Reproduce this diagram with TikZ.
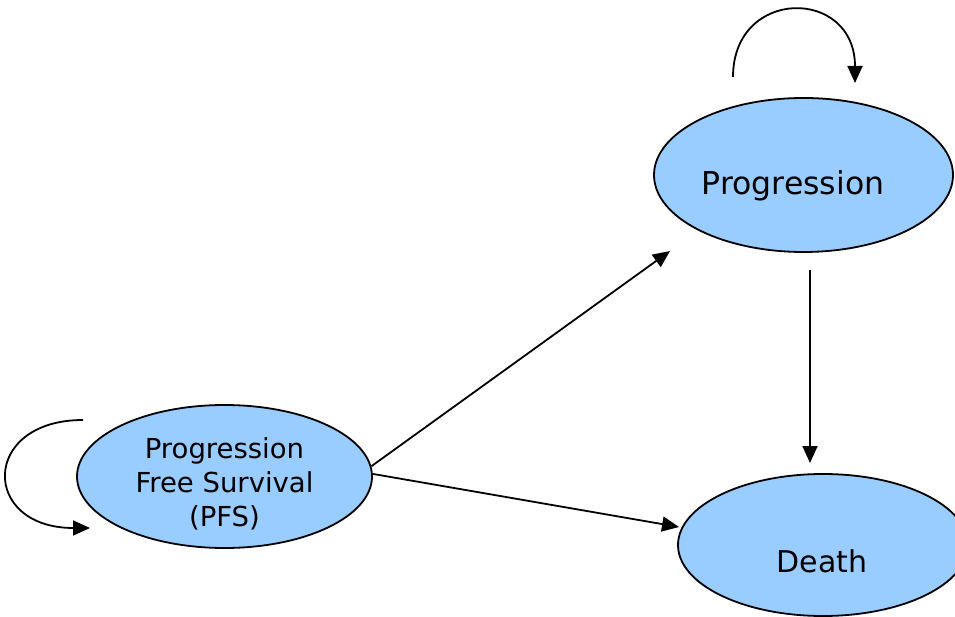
\documentclass[tikz,border=0pt]{standalone}
\usepackage{fontspec}
\setmainfont{DejaVu Sans}
\usetikzlibrary{shapes.geometric,arrows.meta}
\definecolor{stateblue}{HTML}{99CCFF}
\tikzset{
  state/.style={ellipse,draw=black,fill=stateblue,line width=1.8pt,inner sep=0pt},
  bigtext/.style={font=\fontsize{30}{34}\selectfont,anchor=base,inner sep=0pt},
  pfstext/.style={font=\fontsize{27.5}{34}\selectfont,anchor=base,inner sep=0pt,align=center},
  conn/.style={line width=1.8pt,-{Triangle[length=17pt,width=15pt]}}
}
\begin{document}
\begin{tikzpicture}[x=1pt,y=1pt]
\useasboundingbox (0,0) rectangle (955,616);
% states
\node[state,minimum width=295pt,minimum height=143pt] (pfs) at (224.5,139.5) {};
\node[state,minimum width=299pt,minimum height=154pt] (prog) at (803.5,441) {};
\node[state,minimum width=290pt,minimum height=142pt] (death) at (823,71) {};
% texts
\node[pfstext] (pfslabel) at (224.5,90) {Progression\\Free Survival\\(PFS)};
\node[bigtext,font=\fontsize{31.5}{34}\selectfont] (proglabel) at (793,421) {Progression};
\node[bigtext] (deathlabel) at (822,44) {Death};
% free ends
\coordinate (t1) at (670,365);
\coordinate (t2) at (679,89);
\coordinate (s3) at (810,346);
\coordinate (t3) at (810,153);
\coordinate (l1s) at (733,539);
\coordinate (l1e) at (855,533);
\coordinate (l2s) at (83,196);
\coordinate (l2e) at (90,88);
% connectors
\draw[conn] (pfs.4) -- (t1);
\draw[conn] (pfs.1) -- (t2);
\draw[conn] (s3) -- (t3);
\draw[conn] (l1s) .. controls (733,629) and (855,629) .. (l1e);
\draw[conn] (l2s) .. controls (-19.5,196) and (-19.5,88) .. (l2e);
\end{tikzpicture}
\end{document}
